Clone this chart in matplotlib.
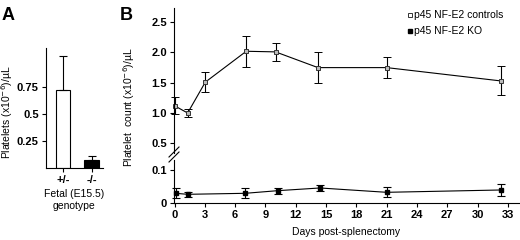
import matplotlib
matplotlib.use("Agg")
import matplotlib.pyplot as plt
from matplotlib.lines import Line2D

plt.rcParams['font.family'] = ['Liberation Sans', 'DejaVu Sans']
plt.rcParams['font.size'] = 8

# panel A: fetal platelets by genotype
genotypes = ['+/-', '-/-']
fetal_mean = [0.72, 0.075]
fetal_err = [0.32, 0.04]

# panel B: platelet counts after splenectomy
ctrl_days = [0, 1.3, 3.05, 7.1, 10, 14.2, 21, 32.3]
ctrl_mean = [1.12, 1.0, 1.51, 2.02, 2.01, 1.75, 1.75, 1.53]
ctrl_err = [0.14, 0.06, 0.16, 0.26, 0.15, 0.25, 0.17, 0.24]

ko_days = [0.1, 1.3, 7.0, 10.25, 14.4, 21, 32.35]
ko_mean = [0.030, 0.027, 0.030, 0.038, 0.046, 0.033, 0.040]
ko_err = [0.015, 0.007, 0.015, 0.009, 0.008, 0.015, 0.017]

day_ticks = list(range(0, 34, 3))

fig = plt.figure(figsize=(5.2, 2.4), dpi=100)
W, H = 520.0, 240.0

def box(x0, y0, x1, y1):
    # pixel box -> figure fraction
    return [x0 / W, 1 - y1 / H, (x1 - x0) / W, (y1 - y0) / H]

# ---- panel A ----
axA = fig.add_axes(box(45.7, 48, 103, 168))
axA.bar([0, 1], fetal_mean, width=0.5, color=['white', 'black'],
        edgecolor='black', linewidth=0.8)
axA.errorbar([0, 1], fetal_mean, yerr=[[0, 0], fetal_err], fmt='none',
             ecolor='black', elinewidth=0.8, capsize=3, capthick=0.8)
axA.set_xlim(-0.6, 1.4)
axA.set_ylim(0, 1.11)
axA.set_yticks([0.25, 0.5, 0.75])
axA.set_yticklabels(['0.25', '0.5', '0.75'], fontweight='bold')
axA.set_xticks([0, 1])
axA.set_xticklabels(genotypes, fontweight='bold')
axA.tick_params(length=3, width=0.8, pad=2)
for s in ['top', 'right']:
    axA.spines[s].set_visible(False)
for s in ['left', 'bottom']:
    axA.spines[s].set_linewidth(0.8)
axA.set_xlabel('Fetal (E15.5)\ngenotype', fontsize=7.5, labelpad=3,
               linespacing=1.2)
fig.text(7 / W, 1 - 112 / H, 'Platelets (x10$^{-6}$)/\u00b5L', rotation=90,
         ha='center', va='center', fontsize=7.5)
fig.text(2 / W, 1 - 16 / H, 'A', fontsize=13, fontweight='bold', va='center')

# ---- panel B ----
axT = fig.add_axes(box(174, 8, 519, 153))
axB = fig.add_axes(box(174, 160, 519, 203.3))

for ax in (axT, axB):
    ax.set_xlim(-0.05, 34.1)
    for s in ['top', 'right']:
        ax.spines[s].set_visible(False)
    for s in ['left', 'bottom']:
        ax.spines[s].set_linewidth(0.8)
    ax.tick_params(length=3, width=0.8, pad=2)

axT.spines['bottom'].set_visible(False)
axT.tick_params(axis='x', bottom=False, labelbottom=False)
axT.set_ylim(0.339, 2.735)
axT.set_yticks([0.5, 1.0, 1.5, 2.0, 2.5])
axT.set_yticklabels(['0.5', '1.0', '1.5', '2.0', '2.5'], fontweight='bold')

axB.set_ylim(0, 0.13)
axB.set_yticks([0, 0.1])
axB.set_yticklabels(['0', '0.1'], fontweight='bold')
axB.set_xticks(day_ticks)
axB.set_xticklabels([str(d) for d in day_ticks], fontweight='bold')

axT.errorbar(ctrl_days, ctrl_mean, yerr=ctrl_err, color='black', lw=0.8,
             marker='s', ms=3.2, mfc='#bbbbbb', mec='#333333', mew=0.7,
             elinewidth=0.8, capsize=3, capthick=0.8, clip_on=False)
axB.errorbar(ko_days, ko_mean, yerr=ko_err, color='black', lw=0.8,
             marker='s', ms=3.2, mfc='black', mec='black',
             elinewidth=0.8, capsize=3, capthick=0.8, clip_on=False)

axB.set_xlabel('Days post-splenectomy', fontsize=7.5, labelpad=5)
fig.text(129 / W, 1 - 107 / H, 'Platelet  count (x10$^{-6}$)/\u00b5L',
         rotation=90, ha='center', va='center', fontsize=7.5)
fig.text(120 / W, 1 - 16 / H, 'B', fontsize=13, fontweight='bold', va='center')

# axis break marks
for dy in (-3, 2):
    fig.add_artist(Line2D([(169) / W, (179) / W],
                          [1 - (160 + dy) / H, 1 - (150 + dy) / H],
                          color='black', lw=0.8))

# legend
fig.add_artist(Line2D([410 / W], [1 - 15 / H], marker='s', ms=3,
                      mfc='white', mec='#333333', mew=0.7, ls='none'))
fig.add_artist(Line2D([410 / W], [1 - 31 / H], marker='s', ms=3,
                      mfc='black', mec='black', ls='none'))
fig.text(414 / W, 1 - 15 / H, 'p45 NF-E2 controls', va='center', fontsize=7.5)
fig.text(414 / W, 1 - 31 / H, 'p45 NF-E2 KO', va='center', fontsize=7.5)

fig.savefig('out.png', dpi=100)
